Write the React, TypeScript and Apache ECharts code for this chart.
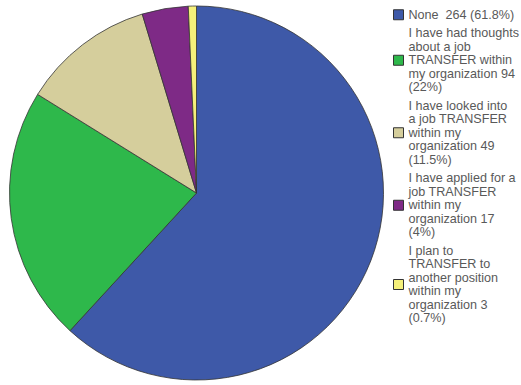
import React, { useEffect, useRef } from "react";
import * as echarts from "echarts";

const categories = [
  "None",
  "I have had thoughts about a job TRANSFER within my organization",
  "I have looked into a job TRANSFER within my organization",
  "I have applied for a job TRANSFER within my organization",
  "I plan to TRANSFER to another position within my organization",
];
const counts = [264, 94, 49, 17, 3];
const percents = ["61.8%", "22%", "11.5%", "4%", "0.7%"];
const legendLabels = [
  "None  264 (61.8%)",
  "I have had thoughts\nabout a job\nTRANSFER within\nmy organization 94\n(22%)",
  "I have looked into\na job TRANSFER\nwithin my\norganization 49\n(11.5%)",
  "I have applied for a\njob TRANSFER\nwithin my\norganization 17\n(4%)",
  "I plan to\nTRANSFER to\nanother position\nwithin my\norganization 3\n(0.7%)",
];
const colors = ["#3E59A8", "#2EB84B", "#D5CE9C", "#7E2A86", "#F5F07A"];

export default function App() {
  const ref = useRef<HTMLDivElement>(null);
  useEffect(() => {
    if (!ref.current) return;
    const chart = echarts.init(ref.current, null, { renderer: "svg" });
    chart.setOption({
      animation: false,
      backgroundColor: "#ffffff",
      legend: {
        orient: "vertical",
        left: 393,
        top: 8,
        padding: 0,
        itemWidth: 10,
        itemHeight: 10,
        itemGap: 5,
        icon: "rect",
        itemStyle: { borderColor: "#333", borderWidth: 1 },
        textStyle: {
          fontFamily: "Liberation Sans, Arial, sans-serif",
          fontSize: 12.6,
          lineHeight: 13.5,
          color: "#595959",
          padding: [0, 0, 0, 0],
        },
        formatter: (name: string) => legendLabels[categories.indexOf(name)],
        data: categories,
      },
      series: [
        {
          type: "pie",
          center: [196.5, 193],
          radius: [0, 187],
          startAngle: 90,
          clockwise: true,
          label: { show: false },
          labelLine: { show: false },
          emphasis: { disabled: true },
          itemStyle: { borderColor: "#333", borderWidth: 0.8 },
          data: categories.map((c, i) => ({
            name: c,
            value: counts[i],
            percent: percents[i],
            itemStyle: { color: colors[i] },
          })),
        },
      ],
    });
    return () => chart.dispose();
  }, []);
  return (
    <div
      ref={ref}
      style={{ position: "absolute", left: 0, top: 0, width: 521, height: 385 }}
    />
  );
}
